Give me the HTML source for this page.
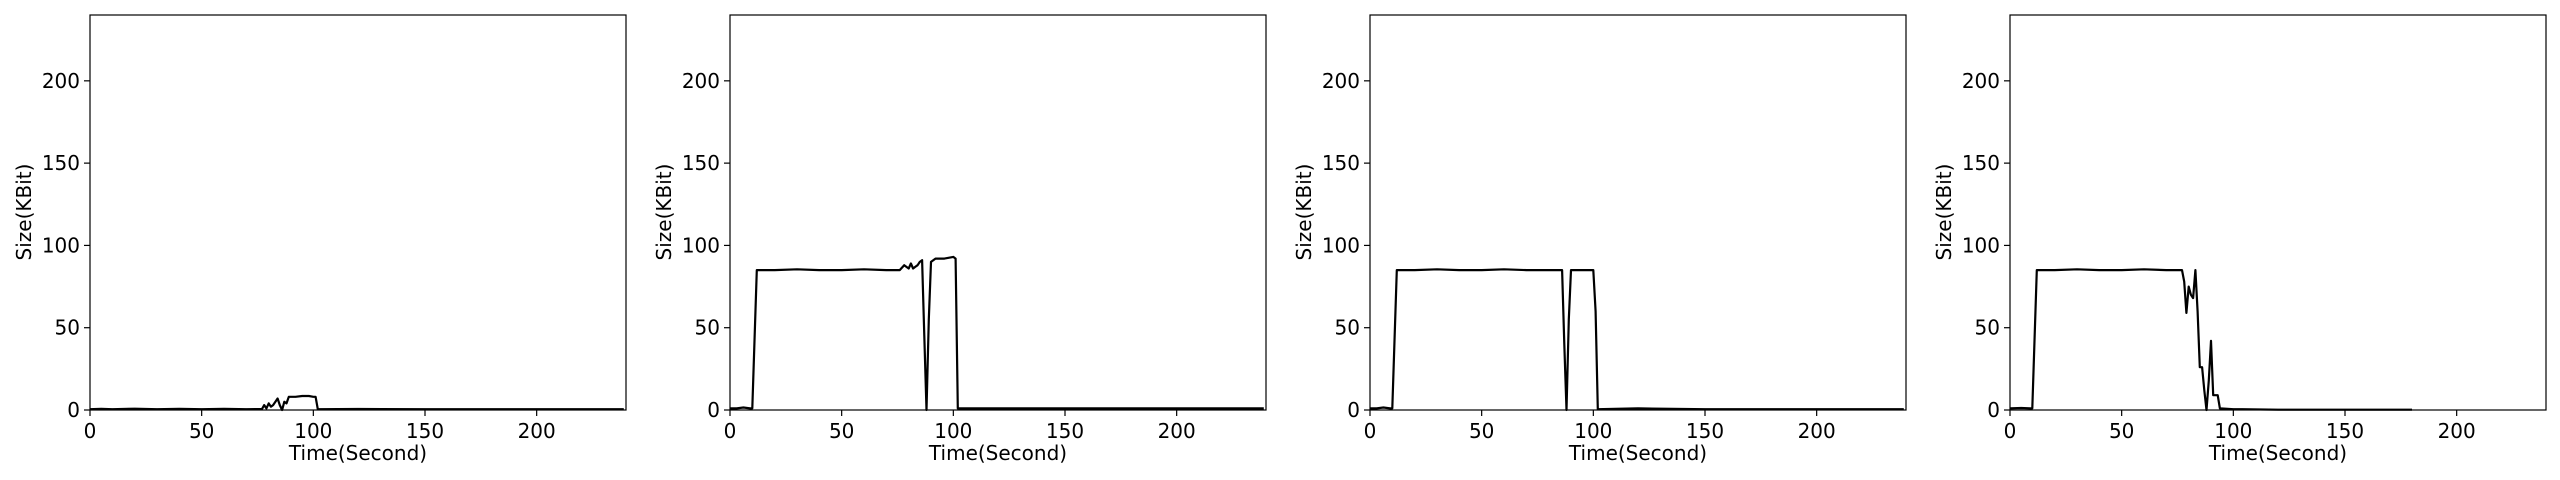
<!DOCTYPE html>
<html><head><meta charset="utf-8"><style>
html,body{margin:0;padding:0;background:#fff;}
svg{display:block;font-family:"DejaVu Sans","Liberation Sans",sans-serif;}
</style></head><body>
<svg id="fig" width="2560" height="480" viewBox="0 0 2560 480"></svg>
<script>
// Data: [time(s), size(KBit)] breakpoints for each panel
const p1Times = [0,5,10,20,30,40,50,60,70,77,78,79,80,81,82,83,84,85,86,87,88,89,92,95,98,100,101,102,120,150,180,200,239];
const p1Vals  = [0.5,0.7,0.5,0.8,0.5,0.7,0.5,0.7,0.5,0.6,3,1,4,2,3,5,7,3,0,5,4,8,8,8.5,8.5,8,8,0.5,0.6,0.5,0.5,0.5,0.5];
const p2Times = [0,3,6,9,10,12,20,30,40,50,60,70,76,78,80,81,82,83,84,85,86,87,88,89,90,92,96,100,101,102,120,150,180,239];
const p2Vals  = [1,1,1.5,1,1,85,85,85.5,85,85,85.5,85,85,88,86,89,86,87,88,90,91,45,0,55,90,92,92,93,92,1,1,1,1,1];
const p3Times = [0,3,6,9,10,12,20,30,40,50,60,70,80,86,87,88,89,90,92,96,100,101,102,120,150,180,239];
const p3Vals  = [1,1,1.5,1,1,85,85,85.5,85,85,85.5,85,85,85,40,0,55,85,85,85,85,60,0.5,1,0.5,0.5,0.5];
const p4Times = [0,5,9,10,12,20,30,40,50,60,70,77,78,79,80,81,82,83,84,85,86,87,88,89,90,91,92,93,94,100,104,120,150,180];
const p4Vals  = [1,1.2,1,1,85,85,85.5,85,85,85.5,85,85,78,59,75,70,68,85,60,26,26,12,0,18,42,9,9,9,1,0.5,0.5,0.2,0.2,0.2];
const panelTimes = [p1Times,p2Times,p3Times,p4Times];
const panelVals = [p1Vals,p2Vals,p3Vals,p4Vals];
const xTicks = [0,50,100,150,200];
const yTicks = [0,50,100,150,200];
const xMax = 240, yMax = 240;

const NS = "http://www.w3.org/2000/svg";
const svg = document.getElementById('fig');
function mk(tag, attrs, parent){
  const e = document.createElementNS(NS, tag);
  for (const k in attrs) e.setAttribute(k, attrs[k]);
  (parent||svg).appendChild(e);
  return e;
}
const L0 = 90, STEP = 640, W = 536, TOP = 15, BOT = 410;
for (let p = 0; p < 4; p++) {
  const left = L0 + p*STEP;
  const xs = v => left + v / xMax * W;
  const ys = v => BOT - v / yMax * (BOT - TOP);
  const g = mk('g', {});
  
  
  let d = '';
  panelTimes[p].forEach((t,i) => { d += (i ? 'L' : 'M') + xs(t).toFixed(1) + ',' + ys(panelVals[p][i]).toFixed(1); });
  const line = mk('path', {d: d, fill:'none', stroke:'#000', 'stroke-width':2.2, 'stroke-linejoin':'round'}, g);
  
  
  const frame = mk('rect', {x:left, y:TOP, width:W, height:BOT-TOP, fill:'none', stroke:'#000', 'stroke-width':1.2}, g);
  
  
  xTicks.forEach(t => {
    mk('line', {x1:xs(t), x2:xs(t), y1:BOT, y2:BOT+6, stroke:'#000', 'stroke-width':1.2}, g);
    const tx = mk('text', {x:xs(t), y:BOT+28, 'font-size':20, 'text-anchor':'middle'}, g);
    tx.textContent = t;
    
    
  });
  yTicks.forEach(t => {
    mk('line', {x1:left-6, x2:left, y1:ys(t), y2:ys(t), stroke:'#000', 'stroke-width':1.2}, g);
    const ty = mk('text', {x:left-10, y:ys(t)+7, 'font-size':20, 'text-anchor':'end'}, g);
    ty.textContent = t;
    
    
  });
  const xl = mk('text', {x:left+W/2, y:460, 'font-size':20, 'text-anchor':'middle'}, g);
  xl.textContent = 'Time(Second)';
  
  
  const yl = mk('text', {x:0, y:0, 'font-size':20, 'text-anchor':'middle', transform:'translate(' + (left-59) + ',212) rotate(-90)'}, g);
  yl.textContent = 'Size(KBit)';
  
  
}
</script>
</body></html>
